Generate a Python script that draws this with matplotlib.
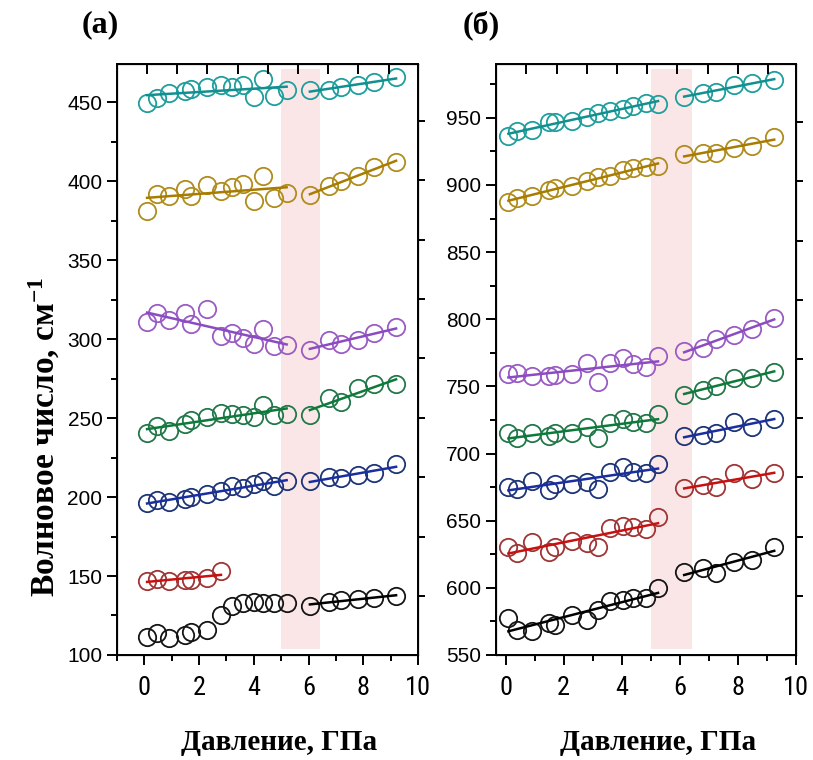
import numpy as np
import matplotlib
matplotlib.use("Agg")
import matplotlib.pyplot as plt
from matplotlib.ticker import MultipleLocator, FixedLocator, NullFormatter
from matplotlib import font_manager


# pressures (GPa), before and after the transition
pressA1 = [0.1, 0.45, 0.9, 1.5, 1.7, 2.3, 2.8, 3.2, 3.6, 4.0, 4.35, 4.75, 5.2]
pressA2 = [6.05, 6.75, 7.2, 7.8, 8.4, 9.2]
pressB1 = [0.1, 0.4, 0.9, 1.5, 1.7, 2.3, 2.8, 3.2, 3.6, 4.05, 4.4, 4.85, 5.25]
pressB2 = [6.15, 6.8, 7.25, 7.85, 8.5, 9.25]

# panel (a), wavenumbers cm-1
cyanA1 = [449.6, 452.8, 456.0, 457.0, 458.5, 459.5, 460.8, 459.5, 460.8, 453.2, 464.4, 453.8, 457.6]
cyanA2 = [458.0, 457.6, 459.5, 460.6, 462.7, 465.9]
goldA1 = [380.9, 391.9, 390.4, 395.3, 390.4, 397.4, 394.0, 396.1, 398.3, 387.3, 403.1, 389.4, 392.6]
goldA2 = [391.1, 396.8, 399.9, 403.1, 408.8, 412.0]
purpleA1 = [310.8, 316.5, 312.3, 316.5, 309.6, 319.1, 301.7, 303.8, 300.7, 296.9, 306.4, 295.4, 296.0]
purpleA2 = [293.3, 299.6, 296.9, 299.2, 303.8, 307.4]
greenA1 = [240.5, 244.7, 242.0, 246.2, 248.9, 250.6, 253.2, 252.7, 252.1, 251.0, 258.4, 252.1, 252.7]
greenA2 = [252.1, 262.7, 259.9, 269.0, 271.5, 271.5]
blueA1 = [196.0, 198.0, 197.0, 199.0, 200.0, 202.0, 204.0, 207.0, 206.0, 208.0, 210.0, 207.0, 210.0]
blueA2 = [210.0, 213.0, 212.0, 214.0, 215.0, 221.0]
redA1 = [146.9, 148.2, 146.9, 147.5, 147.5, 148.6, 153.2]
blackA1 = [111.6, 113.7, 111.0, 112.7, 114.4, 115.8, 125.3, 131.1, 132.8, 133.8, 133.1, 132.8, 133.1]
blackA2 = [131.1, 133.8, 134.9, 135.3, 136.3, 137.4]

# panel (б)
cyanB1 = [936.7, 939.9, 940.7, 946.6, 946.6, 947.9, 950.4, 953.6, 955.4, 956.9, 958.6, 961.1, 960.6]
cyanB2 = [965.6, 968.5, 969.3, 974.7, 976.0, 977.9]
goldB1 = [887.0, 890.3, 892.0, 896.5, 897.8, 899.0, 902.7, 905.7, 906.9, 911.4, 912.7, 913.1, 913.9]
goldB2 = [923.1, 923.8, 923.8, 927.6, 929.3, 935.8]
purpleB1 = [759.2, 759.9, 757.9, 757.9, 758.6, 759.2, 767.4, 753.2, 767.4, 771.1, 766.6, 764.1, 772.3]
purpleB2 = [776.7, 778.5, 785.2, 788.5, 792.7, 801.0]
greenB1 = [715.2, 711.9, 715.2, 712.7, 715.2, 715.2, 719.4, 711.5, 722.6, 725.6, 723.8, 722.6, 729.4]
greenB2 = [743.7, 747.5, 750.4, 756.1, 756.1, 760.6]
blueB1 = [675.4, 673.7, 679.7, 673.0, 677.2, 677.2, 679.1, 673.5, 686.6, 690.3, 686.6, 685.4, 692.1]
blueB2 = [712.7, 713.9, 715.2, 723.8, 720.1, 725.9]
redB1 = [630.7, 625.8, 634.0, 627.0, 630.7, 634.9, 633.2, 630.7, 644.4, 646.1, 645.6, 643.7, 653.1]
redB2 = [674.2, 676.2, 675.4, 685.4, 680.9, 685.4]
blackB1 = [577.8, 568.6, 567.9, 574.1, 572.4, 579.8, 576.1, 583.5, 590.2, 591.0, 592.7, 592.7, 599.7]
blackB2 = [612.1, 614.6, 611.3, 619.5, 620.8, 630.7]

colors = {
	"cyan": ("#1f9e9e", "#12908f"),
	"gold": ("#b08c1c", "#a87c00"),
	"purple": ("#9a5cc4", "#8a4cc0"),
	"green": ("#23774a", "#0d7a3a"),
	"blue": ("#1d3478", "#1a2ea0"),
	"red": ("#a03535", "#c81010"),
	"black": ("#151515", "#000000"),
}


def pickFont(names, fallback):
	have = {f.name for f in font_manager.fontManager.ttflist}
	for n in names:
		if n in have:
			return n
	return fallback


narrow = pickFont(["Liberation Sans Narrow", "DejaVu Sans Condensed", "Roboto Condensed"], "Liberation Sans")

plt.rcParams["font.family"] = "Liberation Sans"
plt.rcParams["mathtext.fontset"] = "custom"
plt.rcParams["mathtext.rm"] = "Liberation Serif:bold"
plt.rcParams["mathtext.it"] = "Liberation Serif:bold"


# circles + (optional) linear fit through them
def drawSeries(ax, x, y, name, fit=True):
	mc, lc = colors[name]
	ax.plot(x, y, "o", ms=12.5, mfc="none", mec=mc, mew=1.3, zorder=3)
	if fit:
		k, b = np.polyfit(x, y, 1)
		xx = np.array([x[0], x[-1]])
		ax.plot(xx, k * xx + b, color=lc, lw=1.8, zorder=4)


def styleAxes(ax, xlim, ylim, topTicks, rightTicks):
	ax.set_xlim(*xlim)
	ax.set_ylim(*ylim)
	ax.axvspan(5.0, 6.42, ymin=0.01, ymax=0.99, color="#fae6e6", zorder=0, lw=0)
	ax.xaxis.set_major_locator(MultipleLocator(2))
	ax.xaxis.set_minor_locator(MultipleLocator(1))
	ax.yaxis.set_major_locator(MultipleLocator(50))
	ax.yaxis.set_minor_locator(MultipleLocator(25))
	ax.tick_params(which="major", direction="out", length=7, width=1.4, colors="black", labelsize=15)
	ax.tick_params(which="minor", direction="out", length=4, width=1.4)
	ax.tick_params(axis="x", which="major", pad=8, labelsize=19, labelfontfamily=narrow)
	for sp in ax.spines.values():
		sp.set_linewidth(1.4)

	# extra ticks on the top and right frame
	axT = ax.twiny()
	axT.set_xlim(*xlim)
	axT.xaxis.set_major_locator(FixedLocator(topTicks))
	axT.xaxis.set_major_formatter(NullFormatter())
	axT.tick_params(direction="in", length=7, width=1.4)
	axR = ax.twinx()
	axR.set_ylim(*ylim)
	axR.yaxis.set_major_locator(FixedLocator(rightTicks))
	axR.yaxis.set_major_formatter(NullFormatter())
	axR.tick_params(direction="out", length=5, width=1.4)
	ax.set_xlabel("Давление, ГПа", family="Liberation Serif", weight="bold", fontsize=21, labelpad=22)
	ax.xaxis.set_label_coords(0.54, -0.125)


fig = plt.figure(figsize=(8.13, 7.6), dpi=100)
axA = fig.add_axes([0.1439, 0.1382, 0.3702, 0.7782])
axB = fig.add_axes([0.6100, 0.1382, 0.3691, 0.7782])

drawSeries(axA, pressA1, cyanA1, "cyan")
drawSeries(axA, pressA2, cyanA2, "cyan")
drawSeries(axA, pressA1, goldA1, "gold")
drawSeries(axA, pressA2, goldA2, "gold")
drawSeries(axA, pressA1, purpleA1, "purple")
drawSeries(axA, pressA2, purpleA2, "purple")
drawSeries(axA, pressA1, greenA1, "green")
drawSeries(axA, pressA2, greenA2, "green")
drawSeries(axA, pressA1, blueA1, "blue")
drawSeries(axA, pressA2, blueA2, "blue")
drawSeries(axA, pressA1[:len(redA1)], redA1, "red")
drawSeries(axA, pressA1, blackA1, "black", fit=False)
drawSeries(axA, pressA2, blackA2, "black")

drawSeries(axB, pressB1, cyanB1, "cyan")
drawSeries(axB, pressB2, cyanB2, "cyan")
drawSeries(axB, pressB1, goldB1, "gold")
drawSeries(axB, pressB2, goldB2, "gold")
drawSeries(axB, pressB1, purpleB1, "purple")
drawSeries(axB, pressB2, purpleB2, "purple")
drawSeries(axB, pressB1, greenB1, "green")
drawSeries(axB, pressB2, greenB2, "green")
drawSeries(axB, pressB1, blueB1, "blue")
drawSeries(axB, pressB2, blueB2, "blue")
drawSeries(axB, pressB1, redB1, "red")
drawSeries(axB, pressB2, redB2, "red")
drawSeries(axB, pressB1, blackB1, "black")
drawSeries(axB, pressB2, blackB2, "black")

styleAxes(axA, (-1, 10), (100, 474.5), np.arange(0.09, 9.5, 1.105), np.arange(137.4, 474, 37.6))
styleAxes(axB, (-0.33, 10), (550, 990.4), np.arange(0.72, 9.8, 1.04), np.arange(594.0, 990, 44.1))

fig.text(0.123, 0.967, "(a)", family="Liberation Serif", weight="bold", fontsize=23, ha="center", va="center")
fig.text(0.592, 0.967, "(б)", family="Liberation Serif", weight="bold", fontsize=23, ha="center", va="center")
fig.text(0.055, 0.425, "Волновое число, см$^{-1}$", family="Liberation Serif", weight="bold",
	fontsize=24, rotation=90, ha="center", va="center")

fig.savefig("out.png", dpi=100)
